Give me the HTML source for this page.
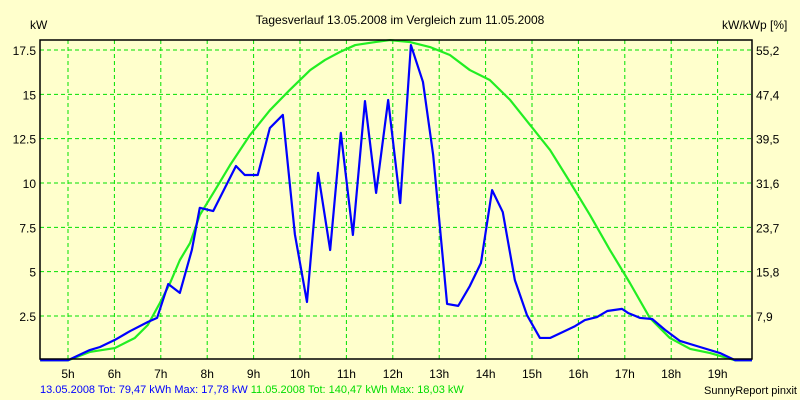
<!DOCTYPE html>
<html><head><meta charset="utf-8"><style>
body{margin:0;background:#ffffcc;}
svg{display:block;font-family:"Liberation Sans",sans-serif;}
</style></head><body>
<svg id="c" width="800" height="400">
<rect width="800" height="400" fill="#ffffcc"/>
<text x="400" y="24" font-size="12" text-anchor="middle">Tagesverlauf 13.05.2008 im Vergleich zum 11.05.2008</text>
<text x="30" y="29" font-size="12">kW</text>
<text x="722" y="29" font-size="12">kW/kWp [%]</text>
<text x="40" y="393" font-size="11"><tspan fill="#0000ff">13.05.2008 Tot: 79,47 kWh Max: 17,78 kW</tspan><tspan fill="#00dd00"> 11.05.2008 Tot: 140,47 kWh Max: 18,03 kW</tspan></text>
<text x="797" y="394" font-size="11" text-anchor="end">SunnyReport pinxit</text>
<g id="grid"></g><g id="series"></g>
<rect x="40" y="40" width="712" height="319" fill="none" stroke="#000" stroke-width="1.5"/>
</svg>
<script>
const hourTicks=[5,6,7,8,9,10,11,12,13,14,15,16,17,18,19];
const leftTicks=[2.5,5,7.5,10,12.5,15,17.5];
const leftLabels=["2.5","5","7.5","10","12.5","15","17.5"];
const rightLabels=["7,9","15,8","23,7","31,6","39,5","47,4","55,2"];
const blueT=[4.40,4.61,5.0,5.47,5.69,6.01,6.34,6.72,6.92,7.16,7.41,7.67,7.84,8.13,8.38,8.62,8.81,9.09,9.35,9.63,9.89,10.15,10.39,10.65,10.88,11.14,11.40,11.64,11.90,12.16,12.39,12.65,12.87,13.17,13.41,13.66,13.90,14.14,14.37,14.63,14.89,15.17,15.39,15.67,15.93,16.14,16.40,16.62,16.94,17.07,17.33,17.59,17.87,18.19,18.62,19.05,19.38,19.74];
const blueV=[0,0,0,0.58,0.75,1.15,1.65,2.16,2.39,4.3,3.8,6.23,8.6,8.42,9.72,10.96,10.45,10.45,13.1,13.84,7.1,3.29,10.57,6.22,12.83,7.07,14.62,9.44,14.68,8.87,17.78,15.7,11.58,3.18,3.07,4.19,5.49,9.6,8.36,4.53,2.56,1.26,1.26,1.6,1.93,2.27,2.44,2.78,2.9,2.67,2.39,2.33,1.71,1.09,0.75,0.41,0,0];
const greenT=[4.40,5.0,5.47,6.01,6.44,6.72,6.98,7.2,7.41,7.63,7.84,8.17,8.49,8.92,9.35,9.78,10.22,10.54,10.86,11.19,11.62,11.94,12.37,12.8,13.23,13.66,14.09,14.53,14.96,15.39,15.82,16.25,16.68,17.11,17.54,17.97,18.41,18.84,19.38,19.74];
const greenV=[0,0,0.47,0.69,1.26,1.99,3.23,4.36,5.65,6.61,8.19,9.6,11.0,12.7,14.1,15.25,16.37,16.94,17.39,17.78,17.95,18.06,17.95,17.67,17.22,16.37,15.81,14.68,13.27,11.86,10.05,8.19,6.22,4.36,2.39,1.26,0.64,0.41,0,0];
const X=h=>68+(h-5)*46.4, Y=v=>360.3-v*17.73;
const NS="http://www.w3.org/2000/svg";
const grid=document.getElementById('grid'), ser=document.getElementById('series');
function mk(tag,attrs,parent){const e=document.createElementNS(NS,tag);for(const k in attrs)e.setAttribute(k,attrs[k]);parent.appendChild(e);return e;}
hourTicks.forEach(h=>{
 const l=mk('line',{x1:X(h),x2:X(h),y1:40,y2:359,stroke:'#00e000','stroke-dasharray':'4,3'},grid);
 
 
 const t=mk('text',{x:X(h),y:378,'font-size':12,'text-anchor':'middle'},grid);t.textContent=h+'h';
 
 
});
leftTicks.forEach((v,i)=>{
 const l=mk('line',{x1:40,x2:752,y1:Y(v),y2:Y(v),stroke:'#00e000','stroke-dasharray':'4,3'},grid);
 
 
 const t=mk('text',{x:36,y:Y(v)+5,'font-size':12,'text-anchor':'end'},grid);t.textContent=leftLabels[i];
 
 
 const r=mk('text',{x:756,y:Y(v)+5,'font-size':12},grid);r.textContent=rightLabels[i];
 
 
});
function line(T,V,col,name){
 const p=mk('polyline',{points:T.map((t,i)=>X(t)+','+Y(V[i])).join(' '),fill:'none',stroke:col,'stroke-width':2.2,'stroke-linejoin':'round'},ser);
 
 
}
line(greenT,greenV,'#22ee22','series-11-05-2008');
line(blueT,blueV,'#0000ff','series-13-05-2008');
</script>
</body></html>
